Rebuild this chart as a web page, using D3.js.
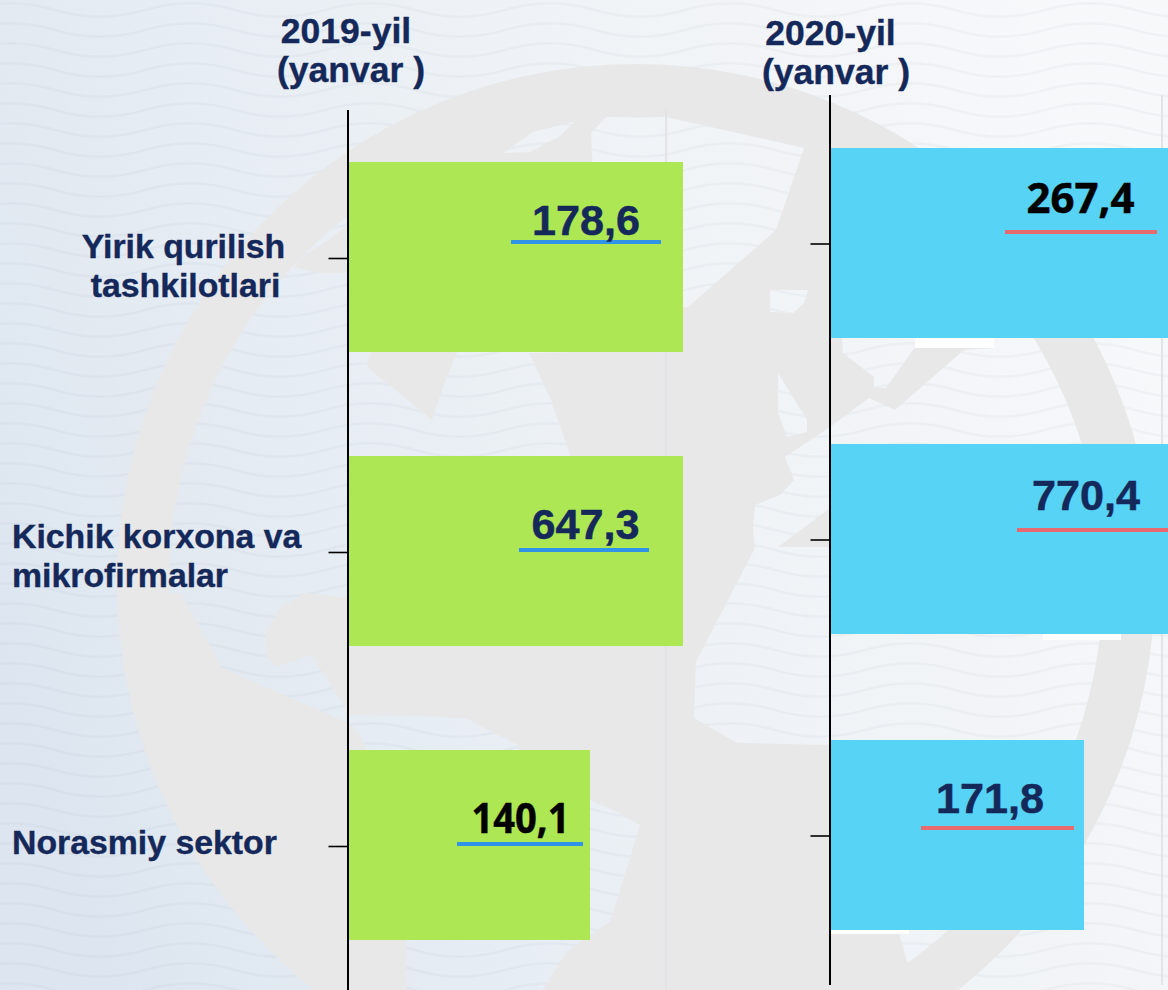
<!DOCTYPE html>
<html>
<head>
<meta charset="utf-8">
<script src="https://cdn.jsdelivr.net/npm/d3@7"></script>
<style>html,body{margin:0;padding:0;background:#fff;overflow:hidden}svg{display:block}</style>
</head>
<body>
<div id="chart"></div>
<script>
// ---- data ----
const categories = ["Yirik qurilish tashkilotlari", "Kichik korxona va mikrofirmalar", "Norasmiy sektor"];
const categoryLines = [["Yirik qurilish", "tashkilotlari"], ["Kichik korxona va", "mikrofirmalar"], ["Norasmiy sektor"]];
const values2019 = [178.6, 647.3, 140.1];
const values2020 = [267.4, 770.4, 171.8];
const labels2019 = ["178,6", "647,3", "140,1"];
const labels2020 = ["267,4", "770,4", "171,8"];
const titles2019 = ["2019-yil", "(yanvar )"];
const titles2020 = ["2020-yil", "(yanvar )"];
const blackLabels = ["140,1", "267,4"];

// ---- layout (not data) ----
const W = 1168, H = 990;
const NAVY = "#14285a", GREEN = "#ade854", BLUE = "#57d3f5", GRAY = "#e8e8e8";
const svg = d3.select("#chart").append("svg").attr("width", W).attr("height", H);
const defs = svg.append("defs");

const grad = defs.append("linearGradient").attr("id", "bg").attr("x1", 0).attr("x2", 1).attr("y1", 0.65).attr("y2", 0.35);
grad.append("stop").attr("offset", "0").attr("stop-color", "#dde6f0");
grad.append("stop").attr("offset", "0.55").attr("stop-color", "#eef2f6");
grad.append("stop").attr("offset", "1").attr("stop-color", "#f7f8fa");

const wave = defs.append("pattern").attr("id", "wave").attr("patternUnits", "userSpaceOnUse")
  .attr("width", 180).attr("height", 20).attr("x", 865);
[-20, 0, 20].forEach(dy => wave.append("path")
  .attr("d", `M0,${10 + dy} C30,${1 + dy} 60,${1 + dy} 90,${10 + dy} S150,${19 + dy} 180,${10 + dy}`)
  .attr("fill", "none").attr("stroke", "#8e99ad").attr("stroke-opacity", 0.07).attr("stroke-width", 2.4));

svg.append("rect").attr("width", W).attr("height", H).attr("fill", "url(#bg)");
svg.append("rect").attr("width", W).attr("height", H).attr("fill", "url(#wave)");

// Globe decoration
const cx = 636, cy = 583, rOuter = 519, rInner = 467;
const oceans = [
  [[591,133],[606,117],[666,117],[804,148],[776,230],[688,307],[600,320]],
  [[503,153],[533,132],[574,122],[560,136],[530,152]],
  [[770,290],[808,290],[804,303],[793,313],[770,312]],
  [[778,373],[807,420],[807,432],[787,437],[778,413]],
  [[841,330],[843,353],[874,377],[874,388],[886,388],[915,347],[915,330]],
  [[830,427],[869,398],[895,410],[964,350],[994,348],[994,330],[1200,330],[1200,923],[960,923],[908,965],[899,933],[830,745]],
  [[785,457],[830,427],[830,508],[778,547],[830,547],[830,745],[737,743],[694,718],[696,662],[755,548],[753,528],[755,505],[780,495],[794,480]],
  [[100,165],[575,165],[575,352],[529,353],[551,400],[570,455],[570,590],[349,598],[305,593],[279,608],[265,635],[266,655],[276,667],[311,655],[346,708],[346,722],[222,668],[182,595],[168,592],[100,592]],
  [[346,722],[358,732],[367,750],[518,750],[518,745],[465,718],[420,716],[349,715]],
  [[406,900],[500,800],[590,800],[619,813],[640,825],[610,922],[590,935],[566,952],[540,995],[406,995]]
];
const lands = [
  [[367,367],[373,345],[460,345],[443,387],[432,420]],
  [[302,257],[328,240],[346,227],[346,273],[317,273],[294,267]]
];
const line = d3.line();
defs.append("clipPath").attr("id", "innerDisc").append("circle").attr("cx", cx).attr("cy", cy).attr("r", rInner);
const mask = defs.append("mask").attr("id", "globeMask").attr("maskUnits", "userSpaceOnUse")
  .attr("x", 0).attr("y", 0).attr("width", W).attr("height", H);
mask.append("circle").attr("cx", cx).attr("cy", cy).attr("r", rOuter).attr("fill", "#fff");
const mg = mask.append("g").attr("clip-path", "url(#innerDisc)");
mg.selectAll("path.o").data(oceans).join("path").attr("class", "o").attr("d", d => line(d) + "Z").attr("fill", "#000");
mg.selectAll("path.l").data(lands).join("path").attr("class", "l").attr("d", d => line(d) + "Z").attr("fill", "#fff");
svg.append("rect").attr("width", W).attr("height", H).attr("fill", GRAY).attr("mask", "url(#globeMask)");

// Scales: the bars of the source are truncated, so the scales are piecewise and clamped
function panel(cfg) {
  const x = d3.scaleLinear().domain(cfg.domain).range(cfg.range).clamp(true);
  const step = (cfg.band[1] - cfg.band[0]) / 3, gap = step - 190;
  const y = d3.scaleBand().domain(categories).range(cfg.band).paddingInner(gap / step).paddingOuter(gap / 2 / step);
  const g = svg.append("g");

  g.append("line").attr("x1", x(cfg.grid)).attr("x2", x(cfg.grid)).attr("y1", cfg.axisTop).attr("y2", cfg.axisBottom)
    .attr("stroke", "#e1e3e7").attr("stroke-width", 2);

  // white slips beneath the bars
  g.selectAll("rect.slip").data(cfg.slips).join("rect").attr("class", "slip")
    .attr("x", d => d[1]).attr("width", d => d[2])
    .attr("y", d => y(categories[d[0]]) + y.bandwidth()).attr("height", d => d[3]).attr("fill", "#fff");

  g.selectAll("rect.bar").data(cfg.values).join("rect").attr("class", "bar")
    .attr("x", cfg.range[0]).attr("y", (d, i) => y(categories[i]))
    .attr("width", d => x(d) - cfg.range[0]).attr("height", y.bandwidth()).attr("fill", cfg.color);

  const axis = d3.axisLeft(y).tickSize(19).tickFormat("").tickSizeOuter(0);
  const ag = g.append("g").attr("transform", `translate(${cfg.axisX},${cfg.tickShift})`).call(axis);
  ag.select(".domain").remove();
  ag.selectAll(".tick line").attr("stroke", "#000").attr("stroke-width", 1.6).attr("transform", "translate(-0.5,0)");
  g.append("line").attr("x1", cfg.axisX).attr("x2", cfg.axisX).attr("y1", cfg.axisTop).attr("y2", cfg.axisBottom)
    .attr("stroke", "#000").attr("stroke-width", 2);

  // underlines and value labels
  g.selectAll("rect.rule").data(cfg.rules).join("rect").attr("class", "rule")
    .attr("x", d => d[0]).attr("width", d => d[1] - d[0])
    .attr("y", (d, i) => y(categories[i]) + d[2]).attr("height", 4).attr("fill", cfg.rule);
  g.selectAll("text.val").data(cfg.labels).join("text").attr("class", "val")
    .attr("x", (d, i) => cfg.labelX[i]).attr("y", (d, i) => y(categories[i]) + cfg.labelDy[i])
    .attr("text-anchor", "middle")
    .attr("font-family", d => blackLabels.includes(d) ? "'Open Sans'" : "'Liberation Sans'")
    .attr("font-weight", 700)
    .attr("font-size", d => blackLabels.includes(d) ? 42 : 43)
    .attr("textLength", d => blackLabels.includes(d) ? (d === "140,1" ? 98 : 108) : 108)
    .attr("lengthAdjust", "spacingAndGlyphs")
    .attr("fill", d => blackLabels.includes(d) ? "#000" : NAVY)
    .attr("stroke", d => blackLabels.includes(d) ? "#000" : NAVY).attr("stroke-width", 0.5)
    .text(d => d);
  return y;
}

panel({
  domain: [0, 140.1, 178.6], range: [349, 590, 683], band: [110, 992], color: GREEN, rule: "#2f94e8",
  values: values2019, labels: labels2019, grid: 171.6, axisX: 348, axisTop: 110, axisBottom: 990, tickShift: 1.5,
  labelX: [586, 585.5, 520.5], labelDy: [73, 83, 83],
  rules: [[511, 661, 78], [519, 649, 92], [457, 583, 92]],
  slips: []
});
panel({
  domain: [0, 171.8, 267.4], range: [831, 1084, 1168], band: [95, 983], color: BLUE, rule: "#e8696f",
  values: values2020, labels: labels2020, grid: 260.6, axisX: 830, axisTop: 95, axisBottom: 985, tickShift: 1,
  labelX: [1080.5, 1086, 990], labelDy: [65, 66, 73],
  rules: [[1005, 1157, 82], [1017, 1170, 84], [921, 1074, 86]],
  slips: [[0, 915, 79, 10], [1, 1043, 78, 6], [2, 831, 78, 4]]
});

// Category labels
const catX = [[183.5, 185.5], [12, 12], [12]];
const catY = [258, 548, 854];
const catG = svg.append("g").attr("font-family", "'Liberation Sans'").attr("font-weight", 700)
  .attr("font-size", 33.8).attr("fill", NAVY).attr("stroke", NAVY).attr("stroke-width", 0.4);
categoryLines.forEach((lines, i) => {
  catG.selectAll(null).data(lines).join("text")
    .attr("x", (d, j) => catX[i][j]).attr("y", (d, j) => catY[i] + j * 38.5)
    .attr("text-anchor", i === 0 ? "middle" : "start").text(d => d);
});

// Column titles
[[titles2019, 346, 351, 43], [titles2020, 830.5, 836, 45]].forEach(([t, x1, x2, y0]) => {
  svg.append("g").attr("font-family", "'Liberation Sans'").attr("font-weight", 700).attr("font-size", 35.5).attr("fill", NAVY)
    .attr("stroke", NAVY).attr("stroke-width", 0.4).attr("text-anchor", "middle")
    .selectAll("text").data(t).join("text")
    .attr("x", (d, j) => j ? x2 : x1).attr("y", (d, j) => y0 + j * 39).text(d => d);
});
</script>
</body>
</html>
